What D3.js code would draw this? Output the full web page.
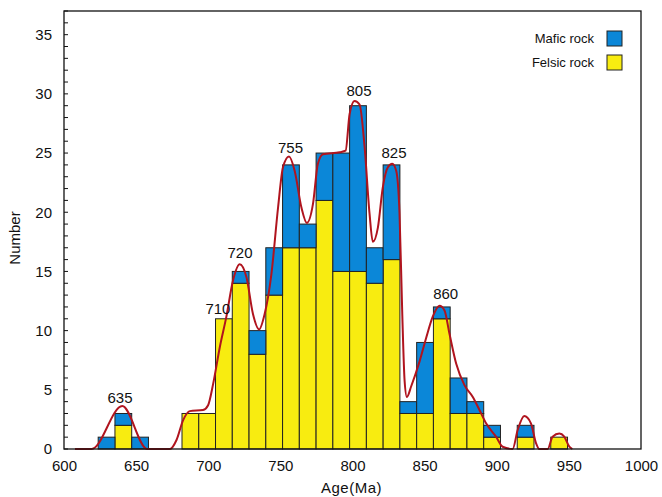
<!DOCTYPE html>
<html>
<head>
<meta charset="utf-8">
<script src="https://cdn.jsdelivr.net/npm/d3@7"></script>
<style>
  body { margin: 0; background: #fff; }
  text { font-family: "Liberation Sans", Arial, sans-serif; fill: #111; }
</style>
</head>
<body>
<div id="chart"></div>
<script>
// histogram bins (Ma)
var binStart = 623.7;
var binWidth = 11.62;

var felsic = [0, 2, 0, 0, 0, 3, 3, 11, 14, 8, 13, 17, 17, 21, 15, 15, 14, 16, 3, 3, 11, 3, 3, 1, 0, 1, 0, 1];
var mafic  = [1, 1, 1, 0, 0, 0, 0, 0, 1, 2, 4, 7, 2, 4, 10, 14, 3, 8, 1, 6, 1, 3, 1, 1, 0, 1, 0, 0];

// probability curve, age / number
var curveAge = [607.6, 619.2, 640.4, 657.7, 673.4, 678.0, 682.6, 687.2, 696.4, 699.9, 703.4, 708.0, 712.6, 717.2,
  721.8, 726.5, 731.0, 735.2, 739.1, 743.8, 748.4, 751.8, 756.0, 759.9, 764.6, 768.4, 772.6, 776.0, 779.5,
  791.1, 795.2, 798.0, 801.4, 804.9, 808.4, 811.8, 814.1, 817.6, 821.0, 824.5, 827.6, 830.3, 832.6, 834.5,
  836.1, 837.7, 840.7, 846.5, 851.1, 855.7, 860.3, 863.8, 867.2, 871.9, 877.6, 883.4, 888.0, 892.6, 899.5,
  904.1, 911.0, 914.5, 919.1, 923.7, 927.2, 929.5, 935.3, 938.7, 943.4, 946.8, 950.3, 952.4];
var curveVal = [0, 0, 3.63, 0, 0, 0.76, 2.44, 3.2, 3.29, 3.7, 5.5, 8.6, 11.2, 14.25,
  15.6, 14.5, 11.4, 10.1, 11.4, 14.8, 20.4, 23.8, 24.7, 23.5, 20.4, 19.1, 20.7, 24.1, 24.9,
  25.07, 25.2, 28.3, 29.4, 29.1, 25.5, 19.9, 17.5, 18.7, 22.1, 23.8, 24.1, 23.5, 19.9, 11.4,
  5.8, 4.4, 5.3, 7.4, 9.4, 11.2, 12.1, 11.7, 9.75, 7.2, 5.4, 4.4, 3.3, 2.17, 1.04,
  0.19, 0, 1.6, 2.78, 2.17, 0.5, 0, 0, 1.04, 1.3, 1.04, 0.2, 0];

// peak labels
var peakText = ["635", "710", "720", "755", "805", "825", "860"];
var peakAge  = [638.8, 706.7, 722, 757, 804.5, 828.8, 864.6];
var peakNum  = [3.9, 11.4, 16.1, 25, 29.85, 24.6, 12.65];

var xTicks = [600, 650, 700, 750, 800, 850, 900, 950, 1000];
var yTicks = [0, 5, 10, 15, 20, 25, 30, 35];

var seriesNames = ["Mafic rock", "Felsic rock"];
var colors = { "Mafic rock": "#0b87d8", "Felsic rock": "#f8ec10" };

var svgWidth = 662, svgHeight = 497;
var margin = { top: 11, right: 21, bottom: 48, left: 64 };
var width = svgWidth - margin.left - margin.right;
var height = svgHeight - margin.top - margin.bottom;

var svg = d3.select("#chart").append("svg")
  .attr("width", svgWidth)
  .attr("height", svgHeight);

var chart = svg.append("g")
  .attr("transform", `translate(${margin.left}, ${margin.top})`);

var x = d3.scaleLinear().domain([600, 1000]).range([0, width]);
var y = d3.scaleLinear().domain([0, 37]).range([height, 0]);

// bins table
var bins = felsic.map(function(f, i) {
  return { x0: binStart + i * binWidth, x1: binStart + (i + 1) * binWidth, felsic: f, mafic: mafic[i] };
});

var stack = d3.stack().keys(["felsic", "mafic"]);
var layers = stack(bins);

chart.selectAll("g.layer")
  .data(layers)
  .enter().append("g")
  .attr("class", "layer")
  .attr("fill", function(d) { return d.key === "felsic" ? colors["Felsic rock"] : colors["Mafic rock"]; })
  .selectAll("rect")
  .data(function(d) { return d.filter(function(s) { return s[1] - s[0] > 0; }); })
  .enter().append("rect")
  .attr("x", function(d) { return x(d.data.x0); })
  .attr("width", function(d) { return x(d.data.x1) - x(d.data.x0); })
  .attr("y", function(d) { return y(d[1]); })
  .attr("height", function(d) { return y(d[0]) - y(d[1]); })
  .attr("stroke", "#222")
  .attr("stroke-width", 1);

// curve
var pts = curveAge.map(function(a, i) { return [a, curveVal[i]]; });
var line = d3.line()
  .x(function(d) { return x(d[0]); })
  .y(function(d) { return y(d[1]); })
  .curve(d3.curveMonotoneX);

chart.append("path")
  .datum(pts)
  .attr("d", line)
  .attr("fill", "none")
  .attr("stroke", "#b0141e")
  .attr("stroke-width", 2);

// peak labels
chart.selectAll("text.peak")
  .data(peakText)
  .enter().append("text")
  .attr("class", "peak")
  .attr("x", function(d, i) { return x(peakAge[i]); })
  .attr("y", function(d, i) { return y(peakNum[i]); })
  .attr("text-anchor", "middle")
  .style("font-size", "15px")
  .text(function(d) { return d; });

// frame
chart.append("rect")
  .attr("x", 0).attr("y", 0)
  .attr("width", width).attr("height", height)
  .attr("fill", "none")
  .attr("stroke", "#111")
  .attr("stroke-width", 1.3);

// y axis, ticks inward
var yAxis = d3.axisLeft(y).tickValues(yTicks).tickSize(0).tickPadding(12);
chart.append("g").call(yAxis)
  .call(function(g) { g.select(".domain").remove(); })
  .selectAll("text")
  .style("font-size", "15px")
  .style("font-family", "Liberation Sans, Arial, sans-serif");

chart.selectAll("line.ytick")
  .data(d3.range(0, 38))
  .enter().append("line")
  .attr("class", "ytick")
  .attr("x1", 0).attr("x2", 4)
  .attr("y1", function(d) { return y(d); })
  .attr("y2", function(d) { return y(d); })
  .attr("stroke", "#111")
  .attr("stroke-width", 1);

// x axis labels only
var xAxis = d3.axisBottom(x).tickValues(xTicks).tickFormat(d3.format("d")).tickSize(0).tickPadding(11);
chart.append("g")
  .attr("transform", `translate(0, ${height})`)
  .call(xAxis)
  .call(function(g) { g.select(".domain").remove(); })
  .selectAll("text")
  .style("font-size", "15px")
  .style("font-family", "Liberation Sans, Arial, sans-serif");

// axis titles
svg.append("text")
  .attr("x", margin.left + x(800) - 1)
  .attr("y", 493)
  .attr("text-anchor", "middle")
  .style("font-size", "15px")
  .style("letter-spacing", "0.5px")
  .text("Age(Ma)");

svg.append("text")
  .attr("transform", "translate(20, 238) rotate(-90)")
  .attr("text-anchor", "middle")
  .style("font-size", "15px")
  .text("Number");

// legend
var legend = svg.append("g").attr("transform", "translate(607, 31)");
seriesNames.forEach(function(name, i) {
  legend.append("rect")
    .attr("x", 0).attr("y", i * 24)
    .attr("width", 15).attr("height", 15)
    .attr("fill", colors[name])
    .attr("stroke", "#222")
    .attr("stroke-width", 1);
  legend.append("text")
    .attr("x", -13).attr("y", i * 24 + 12)
    .attr("text-anchor", "end")
    .style("font-size", "13px")
    .text(name);
});
</script>
</body>
</html>
